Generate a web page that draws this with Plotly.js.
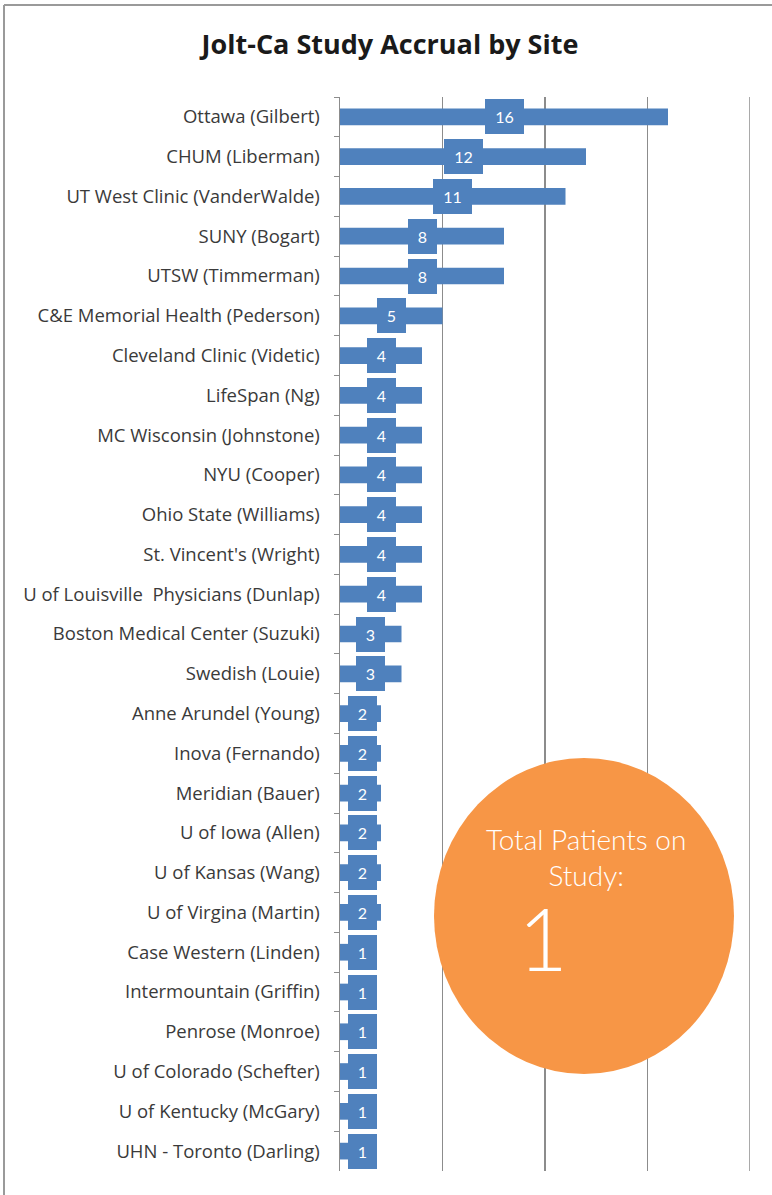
<!DOCTYPE html>
<html>
<head>
<meta charset="utf-8">
<script src="https://cdn.plot.ly/plotly-3.0.1.min.js"></script>
<style>html,body{margin:0;padding:0;background:#fff;}#chart{width:772px;height:1195px;}</style>
</head>
<body>
<div id="chart"></div>
<script>
const sites = [
  "Ottawa (Gilbert)", "CHUM (Liberman)", "UT West Clinic (VanderWalde)", "SUNY (Bogart)",
  "UTSW (Timmerman)", "C&E Memorial Health (Pederson)", "Cleveland Clinic (Videtic)",
  "LifeSpan (Ng)", "MC Wisconsin (Johnstone)", "NYU (Cooper)", "Ohio State (Williams)",
  "St. Vincent's (Wright)", "U of Louisville  Physicians (Dunlap)", "Boston Medical Center (Suzuki)",
  "Swedish (Louie)", "Anne Arundel (Young)", "Inova (Fernando)", "Meridian (Bauer)",
  "U of Iowa (Allen)", "U of Kansas (Wang)", "U of Virgina (Martin)", "Case Western (Linden)",
  "Intermountain (Griffin)", "Penrose (Monroe)", "U of Colorado (Schefter)",
  "U of Kentucky (McGary)", "UHN - Toronto (Darling)"
];
const patients = [16, 12, 11, 8, 8, 5, 4, 4, 4, 4, 4, 4, 4, 3, 3, 2, 2, 2, 2, 2, 2, 1, 1, 1, 1, 1, 1];
const xTicks = [0, 5, 10, 15, 20];
const chartTitle = "Jolt-Ca Study Accrual by Site";
const totalLabel = "Total Patients on<br>Study:";
const totalValue = "1";

const W = 772, H = 1195;
const L = 340, R = 750, T = 97, B = 1171;
const px2x = p => (p - L) / (R - L);
const px2y = p => (B - p) / (B - T);
const xMax = 20;
const pxPerUnit = (R - L) / xMax;
const blue = "#4F81BD";
const grid = "#8c8c8c";

const labelAnnotations = patients.map((v, i) => {
  const txt = String(v);
  const w = txt.length > 1 ? 39 : 29;
  const leftEdge = L + v / 2 * pxPerUnit - w / 2;
  const shift = Math.max(0, (L + 8) - leftEdge);
  return {
    x: v / 2, y: sites[i], xref: "x", yref: "y",
    text: txt, showarrow: false,
    xshift: shift,
    width: w, height: 35,
    bgcolor: blue, borderwidth: 0, borderpad: 0,
    font: {family: "Lato, sans-serif", size: 16, color: "#ffffff"},
    align: "center", valign: "middle"
  };
});

const data = [{
  type: "bar", orientation: "h",
  x: patients, y: sites,
  width: 0.42,
  marker: {color: blue},
  hoverinfo: "x+y"
}];

const layout = {
  width: W, height: H,
  margin: {l: L, r: W - R, t: T, b: H - B, pad: 0},
  paper_bgcolor: "#ffffff", plot_bgcolor: "#ffffff",
  showlegend: false,
  title: {
    text: "<b>" + chartTitle + "</b>",
    xref: "container", yref: "container",
    x: 390 / W, y: 1 - 45 / H, xanchor: "center", yanchor: "middle",
    font: {family: "Open Sans, sans-serif", size: 27, color: "#1a1a1a"}
  },
  xaxis: {
    range: [0, xMax], tickvals: xTicks, showticklabels: false,
    showgrid: true, gridcolor: grid, gridwidth: 1.5,
    zeroline: false, showline: false, ticks: "", fixedrange: true
  },
  yaxis: {
    type: "category", categoryorder: "array", categoryarray: sites,
    autorange: "reversed",
    showline: true, linecolor: grid, linewidth: 1.5,
    ticks: "outside", tickson: "boundaries", ticklen: 5, tickcolor: grid, tickwidth: 1,
    ticklabelstandoff: 15,
    tickfont: {family: "Open Sans, sans-serif", size: 18.5, color: "#3a3a3a"},
    showgrid: false, zeroline: false, fixedrange: true
  },
  shapes: [
    {type: "line", xref: "x", yref: "paper", x0: xTicks[xTicks.length - 1], x1: xTicks[xTicks.length - 1],
     y0: 0, y1: 1, line: {color: grid, width: 1.5}, layer: "below"},
    {type: "line", xref: "paper", yref: "paper", x0: px2x(4), x1: px2x(772), y0: px2y(5), y1: px2y(5),
     line: {color: "#9a9a9a", width: 2}},
    {type: "line", xref: "paper", yref: "paper", x0: px2x(4), x1: px2x(4), y0: px2y(5), y1: px2y(1195),
     line: {color: "#9a9a9a", width: 2}},
    {type: "circle", xref: "paper", yref: "paper", layer: "above",
     x0: px2x(434), x1: px2x(734), y0: px2y(1074), y1: px2y(758),
     fillcolor: "#F79646", line: {width: 0}}
  ],
  annotations: labelAnnotations.concat([
    {xref: "paper", yref: "paper", x: px2x(586), y: px2y(857), xanchor: "center", yanchor: "middle",
     text: totalLabel, showarrow: false, align: "center",
     font: {family: "Lato, sans-serif", size: 28, weight: 300, color: "#ffffff"}},
    {xref: "paper", yref: "paper", x: px2x(543), y: px2y(937), xanchor: "center", yanchor: "middle",
     text: totalValue, showarrow: false,
     font: {family: "Lato, sans-serif", size: 86, weight: 300, color: "#ffffff"}}
  ])
};

Plotly.newPlot("chart", data, layout, {displayModeBar: false, staticPlot: true});
</script>
</body>
</html>
